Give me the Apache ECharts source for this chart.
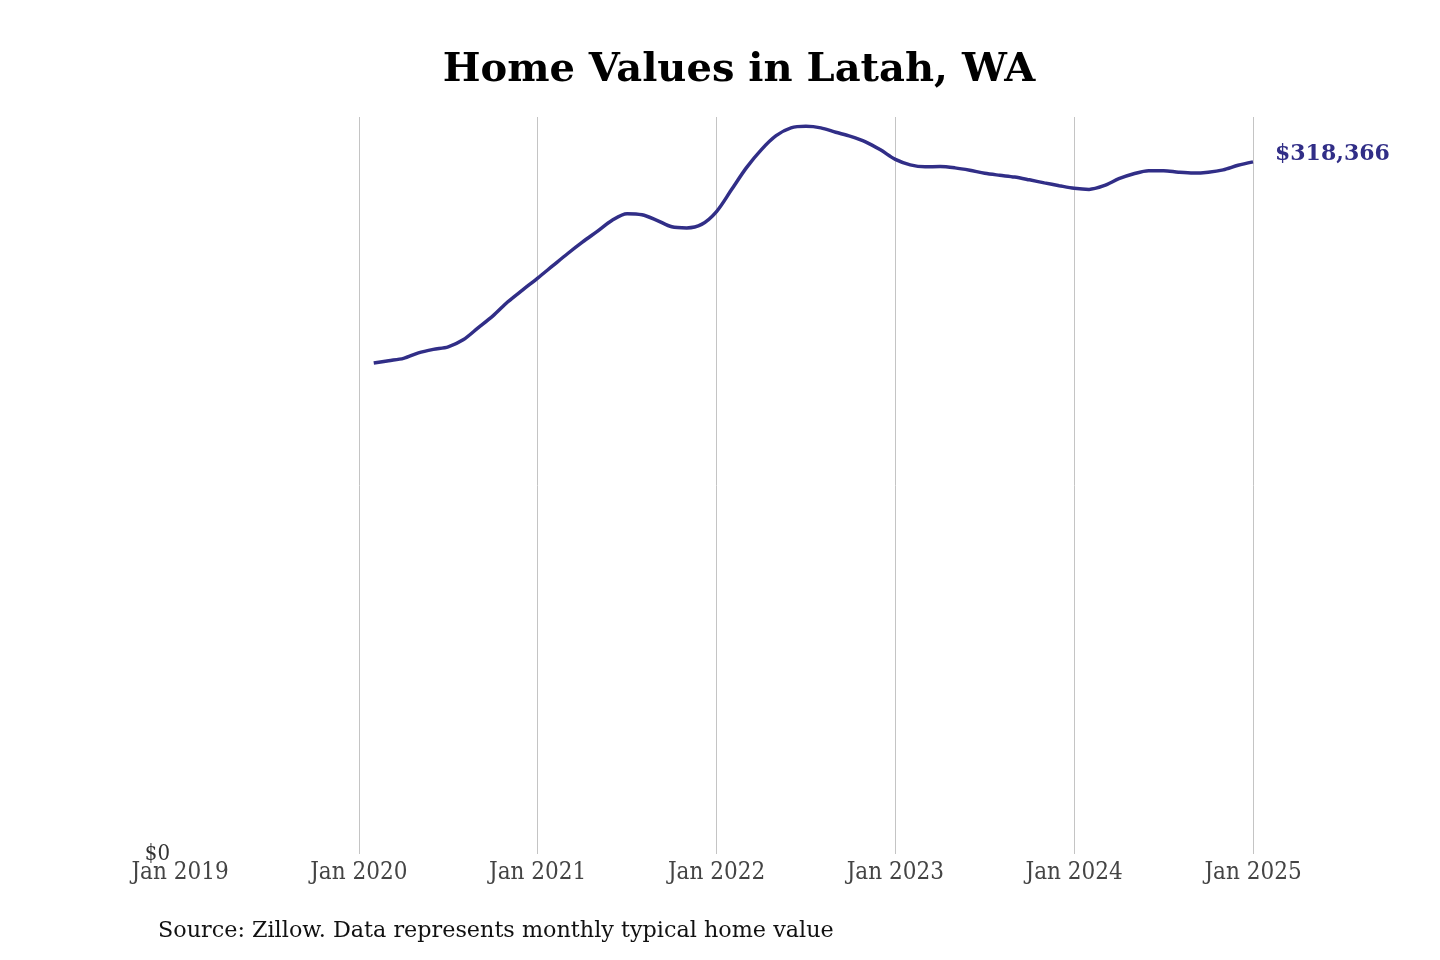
<!DOCTYPE html>
<html>
<head>
<meta charset="utf-8">
<script src="https://cdn.jsdelivr.net/npm/echarts@6/dist/echarts.min.js"></script>
<style>
html,body{margin:0;padding:0;background:#fff;}
#chart{width:1440px;height:960px;}
</style>
</head>
<body>
<div id="chart"></div>
<script>
// Monthly typical home value, Latah, WA (Feb 2020 - Jan 2025)
const months = [
  '2020-02','2020-03','2020-04','2020-05','2020-06','2020-07','2020-08','2020-09','2020-10','2020-11','2020-12',
  '2021-01','2021-02','2021-03','2021-04','2021-05','2021-06','2021-07','2021-08','2021-09','2021-10','2021-11','2021-12',
  '2022-01','2022-02','2022-03','2022-04','2022-05','2022-06','2022-07','2022-08','2022-09','2022-10','2022-11','2022-12',
  '2023-01','2023-02','2023-03','2023-04','2023-05','2023-06','2023-07','2023-08','2023-09','2023-10','2023-11','2023-12',
  '2024-01','2024-02','2024-03','2024-04','2024-05','2024-06','2024-07','2024-08','2024-09','2024-10','2024-11','2024-12',
  '2025-01'
];
const values = [
  225800,226900,228000,230500,232100,233300,236500,242000,247500,254000,259500,
  264900,270500,276100,281400,286400,291500,294500,294000,291500,288500,288000,289600,
  295500,305500,315600,323900,330400,334000,334700,334000,332000,330100,327600,323900,
  319500,317000,316100,316200,315600,314500,313100,312200,311400,310100,308700,307400,
  306200,305700,307400,310600,312900,314300,314300,313600,313200,313600,314700,316800,
  318366
];
const xTickYears = [2019, 2020, 2021, 2022, 2023, 2024, 2025];
const titleText = 'Home Values in Latah, WA';
const sourceText = 'Source: Zillow. Data represents monthly typical home value';

const baseYear = xTickYears[0];
function monthIndex(s) {
  const [y, m] = s.split('-').map(Number);
  return (y - baseYear) * 12 + (m - 1);
}
const seriesData = months.map((m, i) => [monthIndex(m), values[i]]);

const serifCond = "'DejaVu Serif Condensed', 'DejaVu Serif', serif";
const serif = "'DejaVu Serif', serif";
const lineColor = '#312e87';

const chart = echarts.init(document.getElementById('chart'), null, {renderer: 'canvas'});
chart.setOption({
  backgroundColor: '#ffffff',
  animation: false,
  title: {
    text: titleText,
    left: 734,
    textAlign: 'center',
    top: 46,
    textStyle: {fontFamily: serif, fontWeight: 'bold', fontSize: 40, color: '#000'}
  },
  graphic: [{
    type: 'text',
    left: 158,
    top: 920,
    style: {text: sourceText, fontFamily: serif, fontSize: 22.3, fill: '#111'}
  }],
  grid: {left: 180, right: 187, top: 117, bottom: 106},
  xAxis: {
    type: 'value',
    min: 0,
    max: (xTickYears[xTickYears.length - 1] - baseYear) * 12,
    interval: 12,
    axisLine: {show: false},
    axisTick: {show: false},
    splitLine: {show: true, showMinLine: false, lineStyle: {color: '#c4c4c4', width: 1}},
    axisLabel: {
      margin: 7,
      fontFamily: serifCond,
      fontSize: 24,
      color: '#444',
      formatter: v => 'Jan ' + (baseYear + v / 12)
    }
  },
  yAxis: {
    type: 'value',
    min: 0,
    max: 339000,
    interval: 339000,
    axisLine: {show: false},
    axisTick: {show: false},
    splitLine: {show: false},
    axisLabel: {
      margin: 10,
      padding: [14, 0, 0, 0],
      fontFamily: serifCond,
      fontSize: 22,
      color: '#333',
      showMaxLabel: false,
      formatter: v => v === 0 ? '$0' : ''
    }
  },
  series: [{
    type: 'line',
    data: seriesData,
    smooth: 0.3,
    symbol: 'none',
    lineStyle: {color: lineColor, width: 3.5},
    endLabel: {
      show: true,
      distance: 22,
      offset: [0, -8],
      fontFamily: serif,
      fontWeight: 'bold',
      fontSize: 22,
      color: lineColor,
      formatter: p => '$' + p.value[1].toLocaleString('en-US')
    }
  }]
});
</script>
</body>
</html>
